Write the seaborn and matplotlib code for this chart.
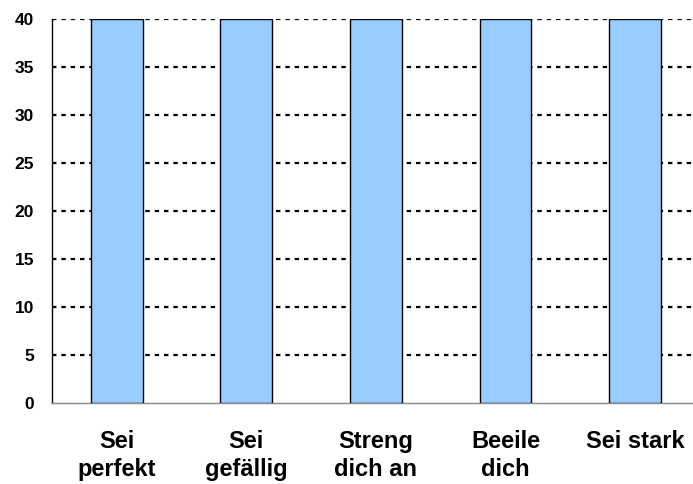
import matplotlib
matplotlib.use("Agg")
import matplotlib.pyplot as plt
import seaborn as sns
import pandas as pd
import numpy as np

categories = ["Sei\nperfekt", "Sei\ngefällig", "Streng\ndich an", "Beeile\ndich", "Sei stark"]
values = [40, 40, 40, 40, 40]
yticks = [0, 5, 10, 15, 20, 25, 30, 35, 40]

sns.set_style("white")
plt.rcParams["font.family"] = ["Liberation Sans", "DejaVu Sans"]

df = pd.DataFrame({"cat": categories, "val": values})

fig = plt.figure(figsize=(6.93, 4.84), dpi=100)
ax = fig.add_axes([0.075, 0.167, 0.935, 0.794])

sns.barplot(data=df, x="cat", y="val", color="#99CCFF", saturation=1,
            width=0.4, edgecolor="black", linewidth=1.0, ax=ax, zorder=3)

ax.set_ylim(0, 40)
ax.set_xlim(-0.5, len(categories) - 0.5)
ax.set_yticks(yticks)
ax.set_yticklabels([str(t) for t in yticks], fontsize=12.5, fontweight="bold", color="black")
for y in yticks[1:]:
    ax.axhline(y, color="black", linestyle=(0, (2, 2.2)), linewidth=1.6, zorder=1)

ax.set_xticks(range(len(categories)))
ax.set_xticklabels(categories, fontsize=17, fontweight="bold", linespacing=1.3, color="black")
ax.tick_params(axis="x", which="major", length=0, pad=19)
ax.set_xticks(np.arange(-0.5, len(categories), 1), minor=True)
ax.tick_params(axis="x", which="minor", length=6, color="#888888", width=1, direction="out")
ax.tick_params(axis="y", length=5, color="#888888", width=1, direction="out", pad=8)

ax.set_xlabel("")
ax.set_ylabel("")
for s in ["top", "right"]:
    ax.spines[s].set_visible(False)
ax.spines["left"].set_color("black")
ax.spines["bottom"].set_color("#888888")
ax.spines["left"].set_linewidth(1.0)
ax.spines["bottom"].set_linewidth(1.0)

fig.savefig("out.png", dpi=100)
